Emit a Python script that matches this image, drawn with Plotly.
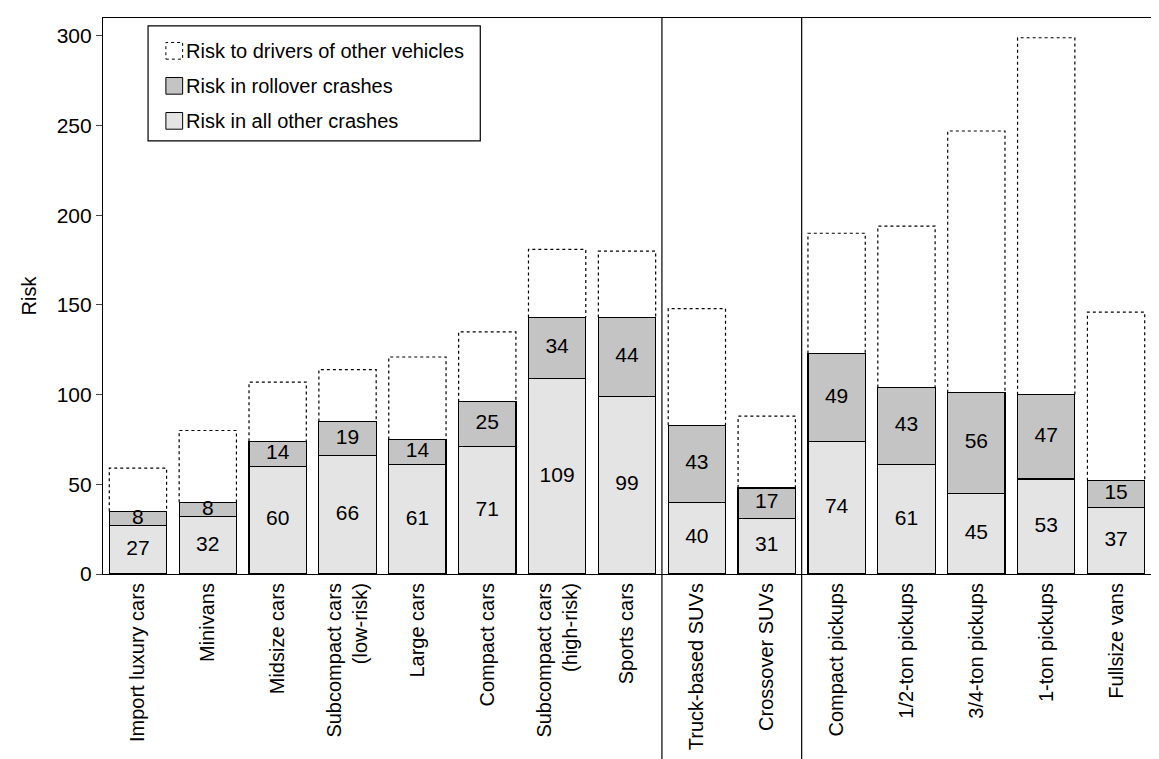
import plotly.graph_objects as go

categories = [
    "Import luxury cars", "Minivans", "Midsize cars", "Subcompact cars<br>(low-risk)",
    "Large cars", "Compact cars", "Subcompact cars<br>(high-risk)", "Sports cars",
    "Truck-based SUVs", "Crossover SUVs", "Compact pickups", "1/2-ton pickups",
    "3/4-ton pickups", "1-ton pickups", "Fullsize vans",
]
other_crashes = [27, 32, 60, 66, 61, 71, 109, 99, 40, 31, 74, 61, 45, 53, 37]
rollover = [8, 8, 14, 19, 14, 25, 34, 44, 43, 17, 49, 43, 56, 47, 15]
total_risk = [59, 80, 107, 114, 121, 135, 181, 180, 148, 88, 190, 194, 247, 299, 146]
group_breaks = [7.5, 9.5]

FONT = "Liberation Sans, Arial, sans-serif"
W = 0.82
x = list(range(len(categories)))

fig = go.Figure()
fig.add_trace(go.Bar(x=x, y=other_crashes, width=W, marker=dict(color="#e4e4e4", line=dict(color="black", width=1.2)),
                     showlegend=False, hoverinfo="skip"))
fig.add_trace(go.Bar(x=x, y=rollover, width=W, marker=dict(color="#c4c4c4", line=dict(color="black", width=1.2)),
                     showlegend=False, hoverinfo="skip"))

# dotted outline of the "other vehicles" segment
for i, (a, b, t) in enumerate(zip(other_crashes, rollover, total_risk)):
    base = a + b
    fig.add_trace(go.Scatter(
        x=[i - W / 2, i - W / 2, i + W / 2, i + W / 2],
        y=[base, t, t, base], mode="lines",
        line=dict(color="black", width=1.2, dash="dot"),
        showlegend=False, hoverinfo="skip"))

# segment labels
fig.add_trace(go.Scatter(x=x, y=[a / 2 for a in other_crashes], mode="text",
                         text=[str(v) for v in other_crashes], textfont=dict(size=21, color="black", family=FONT),
                         showlegend=False, hoverinfo="skip"))
fig.add_trace(go.Scatter(x=x, y=[a + b / 2 for a, b in zip(other_crashes, rollover)], mode="text",
                         text=[str(v) for v in rollover], textfont=dict(size=21, color="black", family=FONT),
                         showlegend=False, hoverinfo="skip"))

shapes = []
for gx in group_breaks:
    shapes.append(dict(type="line", xref="x", yref="paper", x0=gx, x1=gx, y0=-0.34, y1=1,
                       line=dict(color="black", width=1.2)))

# manual legend
shapes.append(dict(type="rect", xref="paper", yref="paper", x0=0.043, x1=0.36, y0=0.779, y1=0.986,
                   line=dict(color="black", width=1.2), fillcolor="white"))
legend_items = [("Risk to drivers of other vehicles", "white", "dot"),
                ("Risk in rollover crashes", "#c4c4c4", "solid"),
                ("Risk in all other crashes", "#e4e4e4", "solid")]
annotations = []
for k, (label, col, dash) in enumerate(legend_items):
    yc = 0.941 - k * 0.063
    shapes.append(dict(type="rect", xref="paper", yref="paper", x0=0.060, x1=0.076, y0=yc - 0.015, y1=yc + 0.015,
                       line=dict(color="black", width=1, dash=dash), fillcolor=col))
    annotations.append(dict(xref="paper", yref="paper", x=0.077, y=yc, text=label, showarrow=False,
                            xanchor="left", yanchor="middle", font=dict(size=20, color="black", family=FONT)))

fig.update_layout(
    width=1159, height=759, barmode="stack", bargap=0.18,
    plot_bgcolor="white", paper_bgcolor="white",
    margin=dict(l=95, r=16, t=10, b=193),
    font=dict(family=FONT, color="black", size=17),
    shapes=shapes, annotations=annotations,
    xaxis=dict(range=[-0.5, len(categories) - 0.5], tickmode="array", tickvals=x, ticktext=categories,
               tickangle=-90, tickfont=dict(size=20), showline=True, linecolor="black", linewidth=1.2,
               mirror=True, showgrid=False, zeroline=False),
    yaxis=dict(range=[0, 310], tickvals=[0, 50, 100, 150, 200, 250, 300], ticks="outside", ticklen=6,
               tickfont=dict(size=21), showline=True, linecolor="black", linewidth=1.2, mirror=True,
               showgrid=False, zeroline=False,
               title=dict(text="Risk", font=dict(size=20), standoff=14)),
)

fig.write_html("out.html")
